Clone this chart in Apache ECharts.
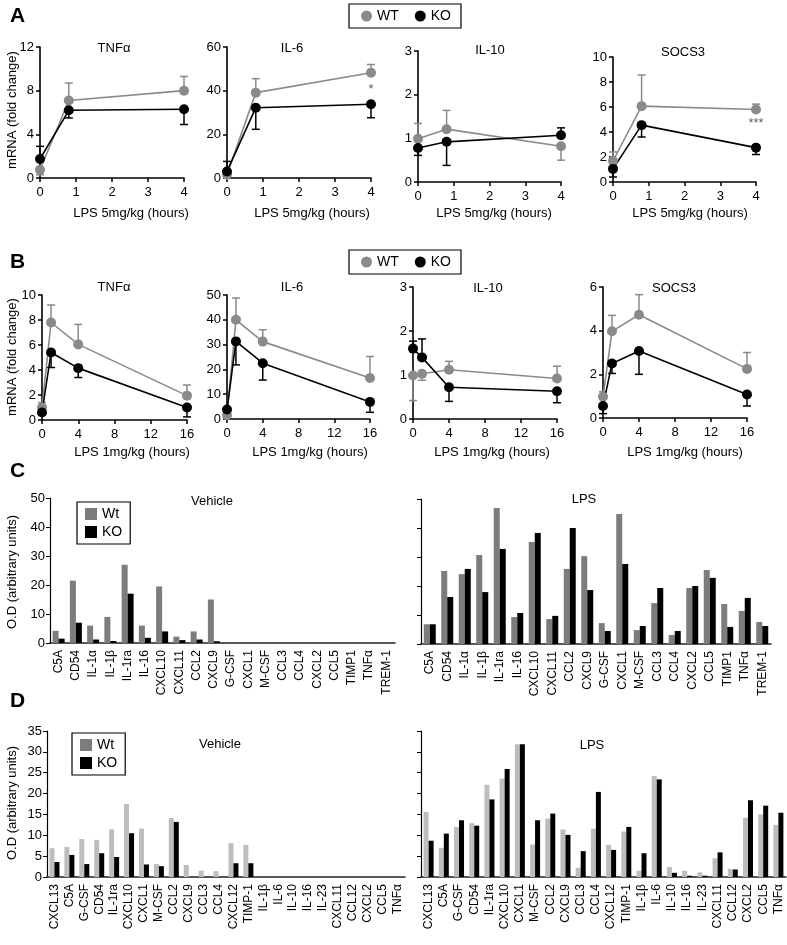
<!DOCTYPE html>
<html><head><meta charset="utf-8">
<script src="https://cdn.jsdelivr.net/npm/echarts/dist/echarts.min.js"></script>
<style>html,body{margin:0;padding:0;background:#fff}#c{width:787px;height:945px}</style>
</head><body><div id="c"></div>
<script>
// ---------- Panel A (LPS 5mg/kg) ----------
const aTimes = [0, 0.8, 4];
const aTnfWT = [0.76, 7.1, 8.0], aTnfWTErr = [0.3, 8.7, 9.3];
const aTnfKO = [1.74, 6.2, 6.3], aTnfKOErr = [2.9, 5.5, 4.9];
const aIl6WT = [1.5, 39.1, 48.2], aIl6WTErr = [0.5, 45.5, 52];
const aIl6KO = [3.0, 32.2, 33.8], aIl6KOErr = [7.6, 22.3, 27.6];
const aIl10WT = [0.99, 1.21, 0.82], aIl10WTErr = [1.34, 1.64, 0.5];
const aIl10KO = [0.78, 0.92, 1.07], aIl10KOErr = [0.61, 0.38, 1.24];
const aSocsWT = [1.68, 6.07, 5.8], aSocsWTErr = [2.4, 8.56, 6.23];
const aSocsKO = [1.05, 4.55, 2.75], aSocsKOErr = [0.4, 3.6, 2.2];
const aIl6Star = [[4, 40.6]], aSocsStar = [[4, 4.7]];
const aStarText = ['*', '***'];

// ---------- Panel B (LPS 1mg/kg) ----------
const bTimes = [0, 1, 4, 16];
const bTnfWT = [1.0, 7.8, 6.05, 1.95], bTnfWTErr = [1.4, 9.2, 7.65, 2.8];
const bTnfKO = [0.6, 5.4, 4.15, 1.0], bTnfKOErr = [null, 4.2, 3.4, 0.25];
const bIl6WT = [1.5, 40, 31.2, 16.5], bIl6WTErr = [null, 48.8, 36, 25.2];
const bIl6KO = [3.8, 31.3, 22.5, 6.9], bIl6KOErr = [0.3, 21.8, 15.7, 2.7];
const bIl10WT = [0.99, 1.03, 1.12, 0.92], bIl10WTErr = [0.42, 0.88, 1.31, 1.2];
const bIl10KO = [1.6, 1.4, 0.72, 0.63], bIl10KOErr = [1.77, 1.82, 0.4, 0.37];
const bSocsWT = [0.97, 3.97, 4.73, 2.25], bSocsWTErr = [1.2, 4.7, 5.65, 3.0];
const bSocsKO = [0.55, 2.5, 3.07, 1.08], bSocsKOErr = [0.2, 2.04, 2.0, 0.55];

// ---------- Panel C ----------
const cCats = ['C5A','CD54','IL-1α','IL-1β','IL-1ra','IL-16','CXCL10','CXCL11','CCL2','CXCL9','G-CSF','CXCL1','M-CSF','CCL3','CCL4','CXCL2','CCL5','TIMP1','TNFα','TREM-1'];
const cVehWt = [4.2, 21.5, 6, 9, 27, 6, 19.5, 2.2, 4, 15, 0, 0, 0, 0, 0, 0, 0, 0, 0, 0];
const cVehKO = [1.5, 7, 1.2, 0.7, 17, 1.8, 4, 1, 1.2, 0.6, 0, 0, 0, 0, 0, 0, 0, 0, 0, 0];
const cLpsWt = [6.8, 25.2, 24.1, 30.7, 46.9, 9.3, 35.2, 8.6, 25.9, 30.3, 7.2, 44.8, 4.8, 14.1, 3.1, 19.3, 25.5, 13.8, 11.4, 7.6];
const cLpsKO = [6.8, 16.2, 25.9, 17.9, 32.8, 10.7, 38.3, 9.7, 40, 18.6, 4.5, 27.6, 6.2, 19.3, 4.5, 20, 22.8, 5.9, 15.9, 6.2];

// ---------- Panel D ----------
const dCats = ['CXCL13','C5A','G-CSF','CD54','IL-1ra','CXCL10','CXCL1','M-CSF','CCL2','CXCL9','CCL3','CCL4','CXCL12','TIMP-1','IL-1β','IL-6','IL-10','IL-16','IL-23','CXCL11','CCL12','CXCL2','CCL5','TNFα'];
const dVehWt = [6.9, 7.2, 9.1, 8.9, 11.4, 17.5, 11.6, 3.1, 14.1, 2.9, 1.5, 1.4, 8.1, 7.7, 0, 0, 0, 0, 0, 0, 0, 0, 0, 0];
const dVehKO = [3.6, 5.3, 3.1, 5.7, 4.8, 10.5, 3.0, 2.6, 13.2, 0, 0, 0, 3.3, 3.3, 0, 0, 0, 0, 0, 0, 0, 0, 0, 0];
const dLpsWt = [15.6, 7.0, 12.0, 12.9, 22.1, 23.6, 31.8, 7.8, 14.0, 11.4, 2.2, 11.6, 7.7, 10.9, 1.5, 24.2, 2.4, 1.5, 1.1, 4.5, 1.9, 14.2, 15.0, 12.5];
const dLpsKO = [8.7, 10.4, 13.6, 12.3, 18.6, 25.9, 31.8, 13.6, 15.2, 10.1, 6.2, 20.4, 6.5, 12.0, 5.7, 23.4, 1.0, 0.3, 0.3, 5.9, 1.8, 18.4, 17.1, 15.4];

// ---------- layout & styling ----------
const FONT = 'Liberation Sans, Arial, Helvetica, sans-serif';
const GRAY = '#8a8a8a', BLACK = '#000';
const WT_BAR = '#7c7c7c', WT_BAR_D = '#bdbdbd';

const grids = [
  {left:40, top:47, width:144, height:131},
  {left:227, top:47, width:144, height:131},
  {left:418, top:51, width:143, height:131},
  {left:613, top:57, width:143, height:125},
  {left:42, top:295, width:145, height:125},
  {left:227, top:295, width:143, height:124},
  {left:413, top:287, width:144, height:132},
  {left:603, top:287, width:144, height:131},
  {left:50, top:498, width:345, height:145},
  {left:421, top:499, width:350, height:145},
  {left:47, top:731, width:358, height:146},
  {left:421, top:731, width:365, height:146}
].map(g => Object.assign({containLabel:false, outerBoundsMode:'none'}, g));

const lineCfg = [
  {xmax:4, xint:1, ymax:12, yint:4},
  {xmax:4, xint:1, ymax:60, yint:20},
  {xmax:4, xint:1, ymax:3, yint:1},
  {xmax:4, xint:1, ymax:10, yint:2},
  {xmax:16, xint:4, ymax:10, yint:2},
  {xmax:16, xint:4, ymax:50, yint:10},
  {xmax:16, xint:4, ymax:3, yint:1},
  {xmax:16, xint:4, ymax:6, yint:2}
];

const axisLine = {show:true, onZero:false, lineStyle:{color:BLACK, width:1.6}};
const xAxes = [], yAxes = [];
lineCfg.forEach((c, i) => {
  xAxes.push({type:'value', gridIndex:i, min:0, max:c.xmax, interval:c.xint, axisLine,
    axisTick:{show:true, length:4, lineStyle:{color:BLACK, width:1.5}},
    axisLabel:{color:BLACK, fontSize:13, fontFamily:FONT, margin:8}, splitLine:{show:false}});
  yAxes.push({type:'value', gridIndex:i, min:0, max:c.ymax, interval:c.yint, axisLine,
    axisTick:{show:true, length:4, lineStyle:{color:BLACK, width:1.5}},
    axisLabel:{color:BLACK, fontSize:13, fontFamily:FONT, margin:6}, splitLine:{show:false}});
});
[[cCats, 50, 10, true], [cCats, 50, 10, false], [dCats, 35, 5, true], [dCats, 35, 5, false]].forEach((b, k) => {
  const gi = 8 + k;
  xAxes.push({type:'category', gridIndex:gi, data:b[0], boundaryGap:true,
    axisLine:{show:true, lineStyle:{color:'#222', width:1.6}}, axisTick:{show:false},
    axisLabel:{rotate:90, interval:0, color:BLACK, fontSize:12, fontFamily:FONT, margin:7}});
  yAxes.push({type:'value', gridIndex:gi, min:0, max:b[1], interval:b[2],
    axisLine:{show:true, lineStyle:{color:BLACK, width:1.2}},
    axisTick:{show:true, length:4, lineStyle:{color:BLACK}},
    axisLabel:{show:b[3], color:BLACK, fontSize:13, fontFamily:FONT, margin:5}, splitLine:{show:false}});
});

function lineSeries(name, gi, times, vals, color) {
  return {type:'line', name, xAxisIndex:gi, yAxisIndex:gi, data:times.map((t, i) => [t, vals[i]]),
    symbol:'circle', symbolSize:10, lineStyle:{color, width:1.6}, itemStyle:{color}, clip:false, z:3};
}
function errSeries(gi, times, vals, ends, color) {
  const data = [];
  times.forEach((t, i) => { if (ends[i] != null) data.push([t, vals[i], ends[i]]); });
  return {type:'custom', xAxisIndex:gi, yAxisIndex:gi, z:2, silent:true, clip:false, data,
    renderItem(params, api) {
      const p0 = api.coord([api.value(0), api.value(1)]);
      const p1 = api.coord([api.value(0), api.value(2)]);
      return {type:'group', children:[
        {type:'line', shape:{x1:p0[0], y1:p0[1], x2:p1[0], y2:p1[1]}, style:{stroke:color, lineWidth:1.5}},
        {type:'line', shape:{x1:p1[0]-4, y1:p1[1], x2:p1[0]+4, y2:p1[1]}, style:{stroke:color, lineWidth:1.5}}
      ]};
    }};
}
const lineData = [
  [aTimes, aTnfWT, aTnfWTErr, aTnfKO, aTnfKOErr],
  [aTimes, aIl6WT, aIl6WTErr, aIl6KO, aIl6KOErr],
  [aTimes, aIl10WT, aIl10WTErr, aIl10KO, aIl10KOErr],
  [aTimes, aSocsWT, aSocsWTErr, aSocsKO, aSocsKOErr],
  [bTimes, bTnfWT, bTnfWTErr, bTnfKO, bTnfKOErr],
  [bTimes, bIl6WT, bIl6WTErr, bIl6KO, bIl6KOErr],
  [bTimes, bIl10WT, bIl10WTErr, bIl10KO, bIl10KOErr],
  [bTimes, bSocsWT, bSocsWTErr, bSocsKO, bSocsKOErr]
];
const series = [];
lineData.forEach((d, gi) => {
  series.push(errSeries(gi, d[0], d[1], d[2], GRAY));
  series.push(errSeries(gi, d[0], d[3], d[4], BLACK));
  series.push(lineSeries('WT', gi, d[0], d[1], GRAY));
  series.push(lineSeries('KO', gi, d[0], d[3], BLACK));
});
[[1, aIl6Star, aStarText[0]], [3, aSocsStar, aStarText[1]]].forEach(s => {
  series.push({type:'scatter', xAxisIndex:s[0], yAxisIndex:s[0], data:s[1], symbolSize:0, silent:true,
    label:{show:true, position:'inside', formatter:s[2], color:'#333', fontSize:13, fontFamily:FONT}});
});
function barSeries(name, gi, vals, color, w) {
  return {type:'bar', name, xAxisIndex:gi, yAxisIndex:gi, data:vals, barWidth:w, barGap:'0%', itemStyle:{color}};
}
series.push(barSeries('Wt', 8, cVehWt, WT_BAR, 6), barSeries('KO', 8, cVehKO, BLACK, 6));
series.push(barSeries('Wt', 9, cLpsWt, WT_BAR, 6), barSeries('KO', 9, cLpsKO, BLACK, 6));
series.push(barSeries('Wt', 10, dVehWt, WT_BAR_D, 5), barSeries('KO', 10, dVehKO, BLACK, 5));
series.push(barSeries('Wt', 11, dLpsWt, WT_BAR_D, 5), barSeries('KO', 11, dLpsKO, BLACK, 5));

const lineLegend = top => ({left:349, top, orient:'horizontal', borderColor:BLACK, borderWidth:1.2, borderRadius:0,
  padding:[5, 10, 5, 12], itemGap:16, itemWidth:11, itemHeight:11, selectedMode:false,
  textStyle:{fontSize:14, fontFamily:FONT, color:BLACK},
  data:[{name:'WT', icon:'circle', itemStyle:{color:GRAY}}, {name:'KO', icon:'circle', itemStyle:{color:BLACK}}]});
const barLegend = (left, top) => ({left, top, orient:'vertical', borderColor:BLACK, borderWidth:1.2,
  padding:[5, 8, 5, 8], itemGap:4, itemWidth:12, itemHeight:12, selectedMode:false,
  textStyle:{fontSize:14, fontFamily:FONT, color:BLACK},
  data:[{name:'Wt', icon:'rect', itemStyle:{color:WT_BAR}}, {name:'KO', icon:'rect', itemStyle:{color:BLACK}}]});

function txt(text, x, y, opt) {
  return Object.assign({type:'text', x, y, silent:true,
    style:Object.assign({text, fill:BLACK, font:'13px ' + FONT, textAlign:'center', textVerticalAlign:'middle'}, opt && opt.style)},
    opt && opt.extra);
}
const graphics = [
  txt('A', 10, 16, {style:{font:'bold 21px ' + FONT, textAlign:'left'}}),
  txt('B', 10, 262, {style:{font:'bold 21px ' + FONT, textAlign:'left'}}),
  txt('C', 10, 471, {style:{font:'bold 21px ' + FONT, textAlign:'left'}}),
  txt('D', 10, 701, {style:{font:'bold 21px ' + FONT, textAlign:'left'}}),
  txt('TNFα', 114, 48), txt('IL-6', 292, 48), txt('IL-10', 490, 50), txt('SOCS3', 683, 52),
  txt('TNFα', 114, 287), txt('IL-6', 292, 287), txt('IL-10', 488, 288), txt('SOCS3', 674, 288),
  txt('LPS 5mg/kg (hours)', 131, 213), txt('LPS 5mg/kg (hours)', 312, 213),
  txt('LPS 5mg/kg (hours)', 494, 213), txt('LPS 5mg/kg (hours)', 690, 213),
  txt('LPS 1mg/kg (hours)', 132, 452), txt('LPS 1mg/kg (hours)', 310, 452),
  txt('LPS 1mg/kg (hours)', 492, 452), txt('LPS 1mg/kg (hours)', 685, 452),
  txt('mRNA (fold change)', 12, 110, {extra:{rotation:Math.PI/2}}),
  txt('mRNA (fold change)', 12, 357, {extra:{rotation:Math.PI/2}}),
  txt('O.D (arbitrary units)', 12, 572, {extra:{rotation:Math.PI/2}}),
  txt('O.D (arbitrary units)', 12, 803, {extra:{rotation:Math.PI/2}}),
  txt('Vehicle', 212, 501), txt('LPS', 584, 499),
  txt('Vehicle', 220, 744), txt('LPS', 592, 745)
];

const chart = echarts.init(document.getElementById('c'), null, {renderer:'canvas'});
chart.setOption({
  animation:false,
  backgroundColor:'#fff',
  textStyle:{fontFamily:FONT},
  grid:grids, xAxis:xAxes, yAxis:yAxes, series,
  legend:[lineLegend(4), lineLegend(250), barLegend(77, 502), barLegend(72, 733)],
  graphic:graphics
});
</script></body></html>
